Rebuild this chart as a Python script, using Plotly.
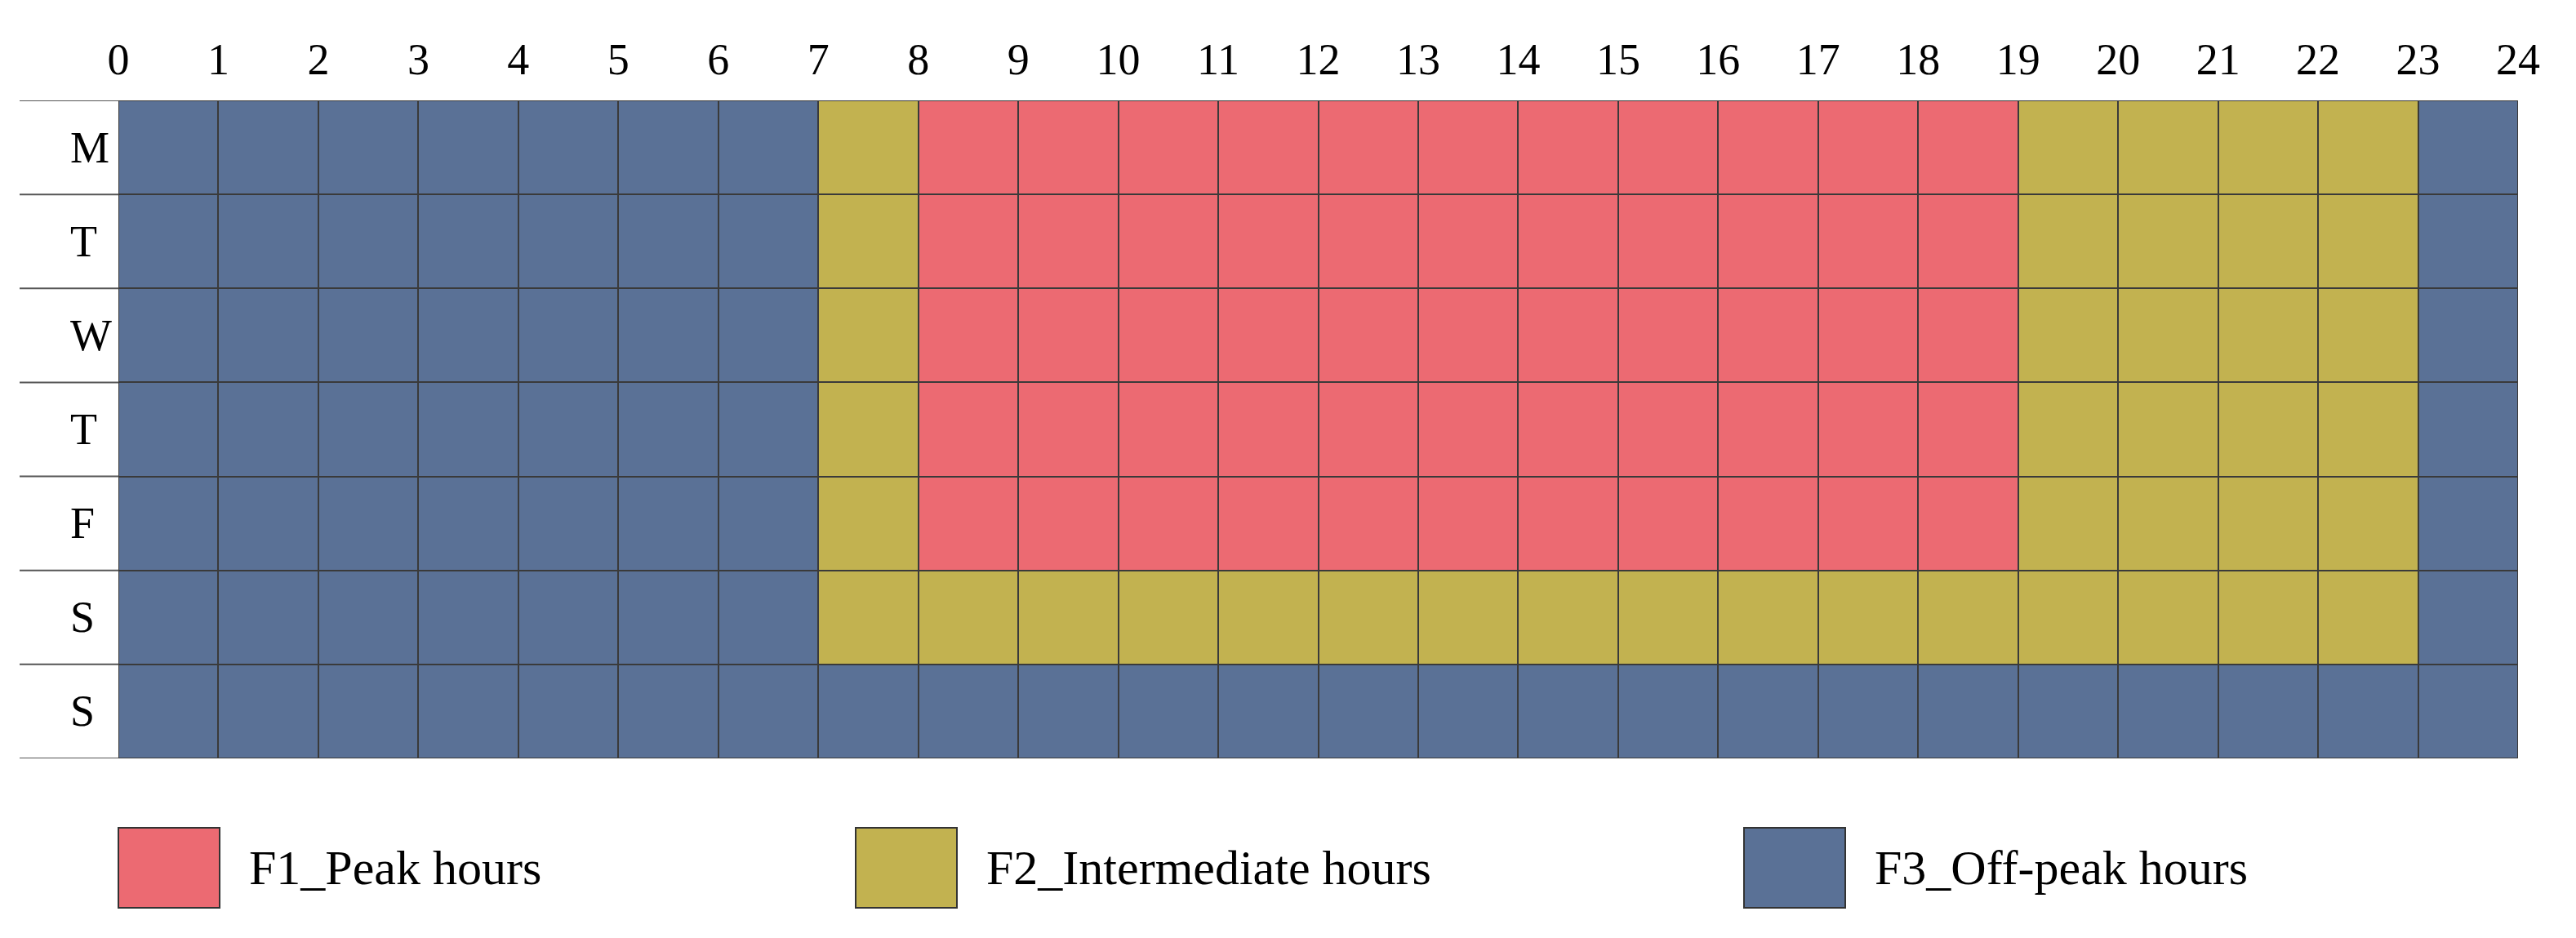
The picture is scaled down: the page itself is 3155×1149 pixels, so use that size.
import plotly.graph_objects as go

hours = list(range(25))
days = ["M", "T", "W", "T", "F", "S", "S"]
# band per hour slot (0..23): 1 = F1 peak, 2 = F2 intermediate, 3 = F3 off-peak
weekday = [3]*7 + [2] + [1]*11 + [2]*4 + [3]
saturday = [3]*7 + [2]*16 + [3]
sunday = [3]*24
bands = [weekday, weekday, weekday, weekday, weekday, saturday, sunday]
legend_names = ["F1_Peak hours", "F2_Intermediate hours", "F3_Off-peak hours"]
colors = ["#EC6A72", "#C2B250", "#5A7196"]

font = "Liberation Serif"
W, H = 3155, 1149
L, R, T, B = 137, 79, 115, 228
pw, ph = W - L - R, H - T - B

fig = go.Figure()
fig.add_trace(go.Heatmap(
    z=bands, x=[h + 0.5 for h in hours[:-1]], y=list(range(len(days))),
    zmin=1, zmax=3,
    colorscale=[[0, colors[0]], [0.5, colors[1]], [1, colors[2]]],
    showscale=False, xgap=2, ygap=2, hoverinfo="skip"))

shapes = []
annotations = []
for i, d in enumerate(days):
    annotations.append(dict(x=-61/pw, xref="paper", y=i, yref="y", text=d,
                            showarrow=False, font=dict(family=font, size=54, color="black")))
for i in range(len(days) + 1):
    shapes.append(dict(type="line", xref="paper", yref="y", x0=-121/pw, x1=0,
                       y0=i - 0.5, y1=i - 0.5, line=dict(color="#555", width=2)))

xs = [0, 903/pw, 1991/pw]
for k, name in enumerate(legend_names):
    x0 = xs[k]
    shapes.append(dict(type="rect", xref="paper", yref="paper", x0=x0, x1=x0 + 124/pw,
                       y0=-(1104-921)/ph, y1=-(1006-921)/ph, fillcolor=colors[k],
                       line=dict(color="#333", width=2)))
    annotations.append(dict(x=x0 + 158/pw, xref="paper", y=-(1055-921)/ph, yref="paper",
                            text=name, showarrow=False, xanchor="left", yanchor="middle",
                            font=dict(family=font, size=60, color="black")))

fig.update_layout(
    width=W, height=H, margin=dict(l=L, r=R, t=T, b=B),
    paper_bgcolor="white", plot_bgcolor="#3a3a3a",
    shapes=shapes, annotations=annotations,
    xaxis=dict(range=[0, 24], side="top", tickvals=hours, ticktext=[str(h) for h in hours],
               tickfont=dict(family=font, size=54, color="black"), showgrid=False,
               zeroline=False, ticks="", ticklabelstandoff=20),
    yaxis=dict(range=[len(days) - 0.5, -0.5], showticklabels=False, showgrid=False,
               zeroline=False),
)

fig.write_html("out.html")
